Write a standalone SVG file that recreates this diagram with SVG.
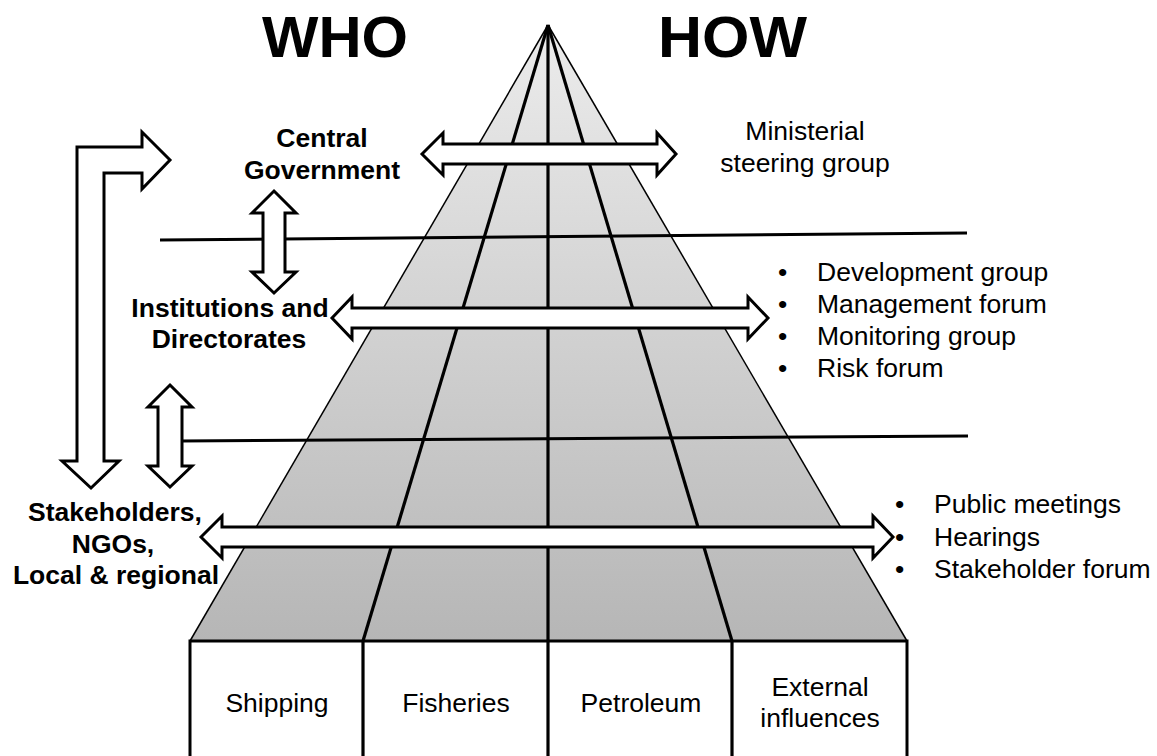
<svg xmlns="http://www.w3.org/2000/svg" width="1157" height="756" viewBox="0 0 1157 756">
<defs>
<linearGradient id="pyr" gradientUnits="userSpaceOnUse" x1="0" y1="25" x2="0" y2="641">
<stop offset="0" stop-color="#ececec"/>
<stop offset="1" stop-color="#b6b6b6"/>
</linearGradient>
<style>
.bold{font-family:"Liberation Sans",Arial,sans-serif;font-weight:bold;font-size:26.5px;fill:#000;text-anchor:middle}
.title{font-family:"Liberation Sans",Arial,sans-serif;font-weight:bold;font-size:57px;fill:#000}
.reg{font-family:"Liberation Sans",Arial,sans-serif;font-size:26.5px;fill:#000}
.mid{text-anchor:middle}
.arrow{fill:#fff;stroke:#000;stroke-width:3;stroke-linejoin:miter}
.edge{stroke:#000;stroke-width:1.5;fill:none}
.div{stroke:#000;stroke-width:3.2;fill:none}
.hline{stroke:#000;stroke-width:3;fill:none}
.box{fill:#fff;stroke:#000;stroke-width:3}
</style>
</defs>
<rect width="1157" height="756" fill="#fff"/>

<g id="pyramid">
<polygon points="548,25 190,641 907,641" fill="url(#pyr)"/>
<line class="edge" x1="548" y1="25" x2="190" y2="641"/>
<line class="edge" x1="548" y1="25" x2="907" y2="641"/>
<line class="div" x1="548" y1="25" x2="363" y2="641"/>
<line class="div" x1="548" y1="25" x2="548" y2="641"/>
<line class="div" x1="548" y1="25" x2="732" y2="641"/>
</g>

<g id="levels">
<line class="hline" x1="160" y1="240" x2="967" y2="233"/>
<line class="hline" x1="180" y1="441" x2="968" y2="436"/>
</g>

<g id="sectors">
<rect class="box" x="190" y="641" width="717" height="130"/>
<line class="div" x1="363" y1="641" x2="363" y2="760"/>
<line class="div" x1="548" y1="641" x2="548" y2="760"/>
<line class="div" x1="732" y1="641" x2="732" y2="760"/>
<text class="reg mid" x="277" y="712">Shipping</text>
<text class="reg mid" x="456" y="712">Fisheries</text>
<text class="reg mid" x="641" y="712">Petroleum</text>
<text class="reg mid" x="820" y="696">External</text>
<text class="reg mid" x="820" y="727">influences</text>
</g>

<g id="connectors">
<polygon class="arrow" points="422,154 443,133 443,144 657,144 657,133 676,154 657,175 657,164 443,164 443,175"/>
<polygon class="arrow" points="332,318 352,297 352,308 748,308 748,297 768,318 748,339 748,328 352,328 352,339"/>
<polygon class="arrow" points="201,537 222,516 222,527 873,527 873,516 893,537 873,558 873,547 222,547 222,558"/>
<polygon class="arrow" points="274,191 296,213 285,213 285,272 296,272 274,293 252,272 263,272 263,213 252,213"/>
<polygon class="arrow" points="170,385 192,407 182,407 182,466 192,466 170,487 148,466 158,466 158,407 148,407"/>
<polygon class="arrow" points="77,461 77,147 142,147 142,132 170,160 142,189 142,173 104,173 104,461 119,461 91,488 62,461"/>
</g>

<g id="titles">
<text class="title" x="262" y="57" textLength="146" lengthAdjust="spacingAndGlyphs">WHO</text>
<text class="title" x="658" y="57" textLength="149" lengthAdjust="spacingAndGlyphs">HOW</text>
</g>

<g id="central-government">
<text class="bold" x="322" y="147">Central</text>
<text class="bold" x="322" y="179">Government</text>
</g>

<g id="institutions">
<text class="bold" x="230" y="317">Institutions and</text>
<text class="bold" x="229" y="348">Directorates</text>
</g>

<g id="stakeholders">
<text class="bold" x="115" y="521">Stakeholders,</text>
<text class="bold" x="113" y="553">NGOs,</text>
<text class="bold" x="116" y="584">Local &amp; regional</text>
</g>

<g id="ministerial">
<text class="reg mid" x="805" y="140">Ministerial</text>
<text class="reg mid" x="805" y="172">steering group</text>
</g>

<g id="directorate-forums">
<text class="reg" x="778" y="281">•</text><text class="reg" x="817" y="281">Development group</text>
<text class="reg" x="778" y="313">•</text><text class="reg" x="817" y="313">Management forum</text>
<text class="reg" x="778" y="345">•</text><text class="reg" x="817" y="345">Monitoring group</text>
<text class="reg" x="778" y="377">•</text><text class="reg" x="817" y="377">Risk forum</text>
</g>

<g id="public-forums">
<text class="reg" x="895" y="513">•</text><text class="reg" x="934" y="513">Public meetings</text>
<text class="reg" x="895" y="546">•</text><text class="reg" x="934" y="546">Hearings</text>
<text class="reg" x="895" y="578">•</text><text class="reg" x="934" y="578">Stakeholder forum</text>
</g>
</svg>
